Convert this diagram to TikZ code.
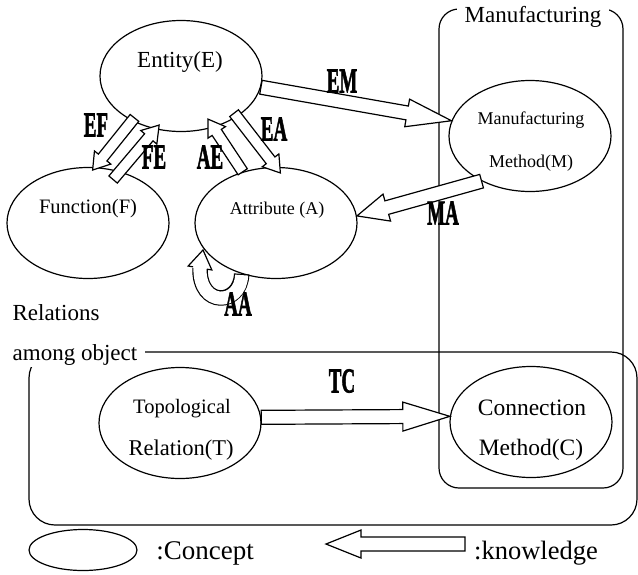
\documentclass[tikz,border=0pt]{standalone}
\usepackage{fontspec}
\setmainfont{Liberation Serif}
\newfontfamily\heavyfont{Liberation Serif}[BoldFeatures={FakeBold=2.2}]
\usetikzlibrary{calc,shapes.geometric}
\newcommand{\fsz}[1]{\fontsize{#1}{#1}\selectfont}
\newcommand{\klab}[1]{\scalebox{0.95}[1.75]{\heavyfont\fontsize{20}{20}\selectfont\bfseries #1}}
\tikzset{
  lw/.style={line width=1.2pt},
  concept/.style={draw, ellipse, lw, minimum width=162pt, minimum height=111pt, inner sep=0pt},
  txt/.style={inner sep=0pt},
  arrowshape/.style={draw, lw, fill=white, line join=miter, miter limit=20},
}
% #1 name, #2 tail, #3 tip, #4 shaft half width, #5 head half width, #6 head length
\newcommand{\blockarrow}[6]{%
  \coordinate (#1t) at (#2);
  \coordinate (#1h) at (#3);
  \coordinate (#1b) at ($(#1h)!#6!(#1t)$);
  \draw[arrowshape] ($(#1t)!#4!90:(#1h)$) -- ($(#1b)!#4!90:(#1h)$) -- ($(#1b)!#5!90:(#1h)$)
     -- (#1h) -- ($(#1b)!#5!-90:(#1h)$) -- ($(#1b)!#4!-90:(#1h)$) -- ($(#1t)!#4!-90:(#1h)$) -- cycle;
}
\begin{document}
\begin{tikzpicture}[x=1pt,y=-1pt]
\useasboundingbox (0,0) rectangle (638,574);

% frames
\draw[lw, rounded corners=20pt] (439,9) rectangle (623,488);
\draw[lw, rounded corners=26pt] (29,352) rectangle (637,525);
\node[fill=white, inner xsep=8pt, inner ysep=2pt, font=\fsz{23}] (mlab) at (533,17) {Manufacturing};
\node[txt, font=\fsz{23}] (rlab) at (56,313) {Relations};
\node[fill=white, inner xsep=8pt, inner ysep=2pt, font=\fsz{23}] (olab) at (75,355) {among object};

% concepts
\node[concept] (E) at (181,76) {};
\node[concept] (F) at (88,223) {};
\node[concept] (A) at (276,223) {};
\node[concept] (M) at (530,136) {};
\node[concept] (T) at (180,423) {};
\node[concept] (C) at (531,422) {};

\node[txt, font=\fsz{23}] (Et) at (180,62) {Entity(E)};
\node[txt, font=\fsz{20.5}] (Ft) at (88,209) {Function(F)};
\node[txt, font=\fsz{18}] (At) at (277,210) {Attribute (A)};
\node[txt, font=\fsz{18}] (Mt1) at (531,120) {Manufacturing};
\node[txt, font=\fsz{18}] (Mt2) at (531,163) {Method(M)};
\node[txt, font=\fsz{20.5}] (Tt1) at (182,409) {Topological};
\node[txt, font=\fsz{22.5}] (Tt2) at (181,450) {Relation(T)};
\node[txt, font=\fsz{23.5}] (Ct1) at (532,408) {Connection};
\node[txt, font=\fsz{23.5}] (Ct2) at (531,450) {Method(C)};

% knowledge arrows
\blockarrow{em}{E.-8}{M.169}{7pt}{14pt}{45pt}
\blockarrow{ma}{M.223}{A.5}{7pt}{14pt}{31pt}
\blockarrow{tc}{T.4}{C.176}{7pt}{14.5pt}{47pt}
\blockarrow{ef}{$(E.222)!4pt!(E.center)$}{$(F.85)!3pt!(F.center)$}{5.5pt}{10.5pt}{16pt}
\blockarrow{fe}{$(F.60)!10pt!(F.center)$}{$(E.246)!5pt!(E.center)$}{5.5pt}{10.5pt}{16pt}
\blockarrow{ae}{A.123}{$(E.-58)!10pt!(E.center)$}{5.5pt}{10.5pt}{16pt}
\blockarrow{ea}{$(E.-35)!5pt!(E.center)$}{$(A.85)!6pt!(A.center)$}{5.5pt}{10.5pt}{16pt}

% self loop AA
\coordinate (aa0) at (A.236);
\coordinate (aab) at (200,268);
\coordinate (aah) at (203,250);
\draw[line width=15.5pt] (aa0) .. controls +(-1,32) and +(-1,40) .. (aab);
\draw[white, line width=13.1pt, shorten <=1.2pt] (aa0) .. controls +(-1,32) and +(-1,40) .. (aab);
\draw[arrowshape] ($(aab)!7pt!90:(aah)$) -- ($(aab)!12pt!90:(aah)$) -- (aah) -- ($(aab)!12pt!-90:(aah)$) -- ($(aab)!7pt!-90:(aah)$);

% labels
\node[txt] (lEF) at (96,125) {\klab{EF}};
\node[txt] (lFE) at (154,157) {\klab{FE}};
\node[txt] (lAE) at (210,157) {\klab{AE}};
\node[txt] (lEA) at (274,129) {\klab{EA}};
\node[txt] (lEM) at (342,81) {\klab{EM}};
\node[txt] (lMA) at (443,213) {\klab{MA}};
\node[txt] (lTC) at (342,381) {\klab{TC}};
\node[txt] (lAA) at (238,304) {\klab{AA}};

% legend
\node[concept, minimum width=108pt, minimum height=41pt] (leg) at (83,550) {};
\node[txt, font=\fsz{27}] (legc) at (205,553) {:Concept};
\coordinate (kt) at (465,544);
\coordinate (kh) at (326,544);
\blockarrow{k}{kt}{kh}{7pt}{14pt}{35pt}
\node[txt, font=\fsz{26.5}] (legk) at (536,553) {:knowledge};
\end{tikzpicture}
\end{document}
